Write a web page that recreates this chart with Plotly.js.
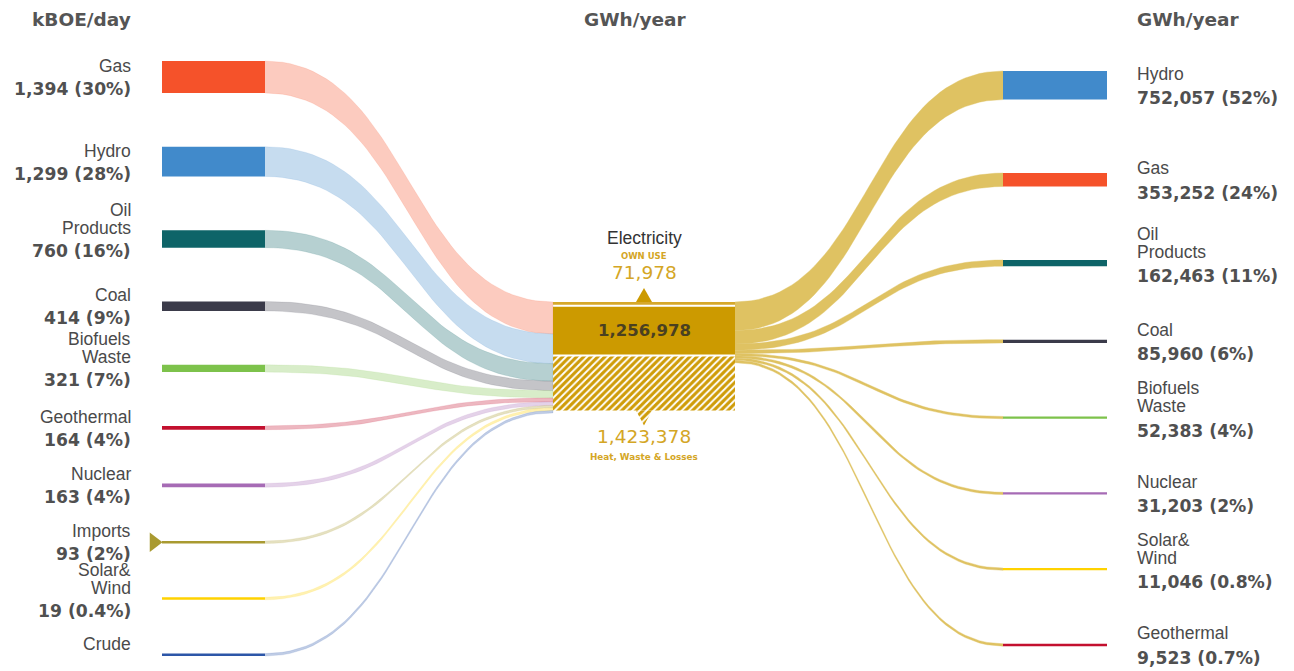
<!DOCTYPE html>
<html><head><meta charset="utf-8">
<script src="https://cdn.plot.ly/plotly-3.0.1.min.js"></script>
<style>html,body{margin:0;padding:0;background:#fff}#chart{width:1294px;height:671px}</style>
</head><body><div id="chart"></div>
<script>
// ---------- DATA ----------
const headers = ['kBOE/day', 'GWh/year', 'GWh/year'];

const leftNames  = ['Gas', 'Hydro', 'Oil\nProducts', 'Coal', 'Biofuels\nWaste', 'Geothermal', 'Nuclear', 'Imports', 'Solar&\nWind', 'Crude'];
const leftValues = [1394, 1299, 760, 414, 321, 164, 163, 93, 19, null];
const leftPct    = ['30%', '28%', '16%', '9%', '7%', '4%', '4%', '2%', '0.4%', null];
const leftColors = ['#f5522a', '#418acb', '#0e6468', '#3b3b4a', '#7dc24b', '#c3102f', '#a66bb5', '#a99a31', '#ffd200', '#2c56a8'];

const rightNames  = ['Hydro', 'Gas', 'Oil\nProducts', 'Coal', 'Biofuels\nWaste', 'Nuclear', 'Solar&\nWind', 'Geothermal'];
const rightValues = [752057, 353252, 162463, 85960, 52383, 31203, 11046, 9523];
const rightPct    = ['52%', '24%', '11%', '6%', '4%', '2%', '0.8%', '0.7%'];
const rightColors = ['#418acb', '#f5522a', '#0e6468', '#3b3b4a', '#7dc24b', '#a66bb5', '#ffd200', '#c3102f'];

const centerName = 'Electricity';
const ownUseLabel = 'OWN USE';
const lossesLabel = 'Heat, Waste & Losses';
const ownUse = 71978;
const electricity = 1256978;
const losses = 1423378;

// ---------- LAYOUT CONSTANTS ----------
const W = 1294, H = 671;
const L = {x0: 162, x1: 265, top: 61, gap: 53.8, k: 0.0229, minH: 2.5, labelX: 133};
const C = {x0: 553, x1: 735, top: 302, gap: 2, k: 3.8e-5};
const R = {x0: 1003, x1: 1107, top: 71, gap: 73.5, k: 3.8e-5, minH: 2.3, labelX: 1135};
const GOLD = '#cc9a00', GOLD_TXT = '#d4a625', FLOW_GOLD = '#dfc262';
const NAME_FONT = {family: 'Liberation Sans, Arial, sans-serif', size: 17.5, color: '#4a4a4a'};
const VAL_FONT = {family: 'DejaVu Sans, Verdana, sans-serif', size: 17.2, color: '#505050', weight: 'bold'};

function hexA(hex, a) {
  const n = parseInt(hex.slice(1), 16);
  return `rgba(${(n >> 16) & 255},${(n >> 8) & 255},${n & 255},${a})`;
}
function fmt(v) { return v.toLocaleString('en-US'); }

const traces = [];
const annotations = [];

function poly(xs, ys, color, extra) {
  traces.push(Object.assign({
    type: 'scatter', mode: 'lines', x: xs, y: ys, fill: 'toself',
    fillcolor: color, line: {width: 0, color: color}, hoverinfo: 'skip', showlegend: false
  }, extra || {}));
}
function rect(x0, x1, y0, y1, color, extra) {
  poly([x0, x1, x1, x0, x0], [y0, y0, y1, y1, y0], color, extra);
}
function bez(p0, p1, p2, p3, t) {
  const u = 1 - t;
  return u*u*u*p0 + 3*u*u*t*p1 + 3*u*t*t*p2 + t*t*t*p3;
}
function flow(x0, a0, b0, x1, a1, b1, color) {
  const xm = (x0 + x1) / 2, N = 48, xs = [], ys = [];
  for (let i = 0; i <= N; i++) { const t = i / N; xs.push(bez(x0, xm, xm, x1, t)); ys.push(bez(a0, a0, a1, a1, t)); }
  for (let i = N; i >= 0; i--) { const t = i / N; xs.push(bez(x0, xm, xm, x1, t)); ys.push(bez(b0, b0, b1, b1, t)); }
  poly(xs, ys, color, {line: {width: 0.4, color: color}});
}
function text(x, y, s, font, xanchor) {
  annotations.push({x: x, y: y, xref: 'x', yref: 'y', text: s, showarrow: false,
    xanchor: xanchor || 'center', yanchor: 'middle', font: font});
}

// ---------- LEFT NODES + FLOWS ----------
let y = L.top;
let cy = C.top;
leftNames.forEach((name, i) => {
  const h = Math.max((leftValues[i] || 0) * L.k, L.minH);
  const y0 = y, y1 = y + h, yc = (y0 + y1) / 2;
  flow(L.x1, y0, y1, C.x0, cy, cy + h, hexA(leftColors[i], 0.3));
  rect(L.x0, L.x1, y0, y1, leftColors[i]);
  const lines = name.split('\n');
  lines.forEach((ln, j) => text(L.labelX, yc - 11 - (lines.length - 1 - j) * 18, ln, NAME_FONT, 'right'));
  if (leftValues[i] != null) text(L.labelX, yc + 12, fmt(leftValues[i]) + ' (' + leftPct[i] + ')', VAL_FONT, 'right');
  if (i === 7) {
    traces.push({type: 'scatter', mode: 'markers', x: [L.x0 - 8], y: [yc],
      marker: {symbol: 'triangle-right', size: 17, color: leftColors[i]}, hoverinfo: 'skip', showlegend: false});
  }
  cy += h;
  y = y1 + L.gap;
});

// ---------- CENTER NODE ----------
const hOwn = ownUse * C.k, hEl = electricity * C.k, hLoss = losses * C.k;
const yOwn0 = C.top, yOwn1 = yOwn0 + hOwn;
const yEl0 = yOwn1 + C.gap, yEl1 = yEl0 + hEl;
const yLo0 = yEl1 + C.gap, yLo1 = yLo0 + hLoss;
const cx = (C.x0 + C.x1) / 2;

// ---------- RIGHT NODES + FLOWS ----------
let ry = R.top, rcy = C.top;
rightNames.forEach((name, i) => {
  const h = Math.max(rightValues[i] * R.k, R.minH);
  const y0 = ry, y1 = ry + h, yc = (y0 + y1) / 2;
  flow(C.x1, rcy, rcy + h, R.x0, y0, y1, FLOW_GOLD);
  rect(R.x0, R.x1, y0, y1, rightColors[i]);
  const lines = name.split('\n');
  lines.forEach((ln, j) => text(R.labelX, yc - 11.5 - (lines.length - 1 - j) * 18, ln, NAME_FONT, 'left'));
  text(R.labelX, yc + 13, fmt(rightValues[i]) + ' (' + rightPct[i] + ')', VAL_FONT, 'left');
  rcy += h;
  ry = y1 + R.gap;
});

// center blocks drawn on top of flows
rect(C.x0, C.x1, yOwn0, yOwn1, '#d6a82a');
rect(C.x0, C.x1, yEl0, yEl1, GOLD);
const hatch = {fillpattern: {shape: '/', bgcolor: '#ffffff', fgcolor: '#cf9c08', size: 5, solidity: 0.62}};
rect(C.x0, C.x1, yLo0, yLo1, '#ffffff', hatch);
// own use up-arrow, losses down-arrow
poly([cx - 8, cx + 8, cx, cx - 8], [yOwn0, yOwn0, yOwn0 - 14, yOwn0], GOLD);
poly([cx - 8, cx + 8, cx, cx - 8], [yLo1, yLo1, yLo1 + 15, yLo1], '#ffffff', hatch);

// center texts
text(cx, yOwn0 - 64, centerName, {family: 'Liberation Sans, Arial, sans-serif', size: 17.5, color: '#333'});
text(cx, yOwn0 - 46, ownUseLabel, {family: 'DejaVu Sans, Verdana, sans-serif', size: 8.5, color: GOLD_TXT, weight: 'bold'});
text(cx, yOwn0 - 30, fmt(ownUse), {family: 'DejaVu Sans, Verdana, sans-serif', size: 18.5, color: GOLD_TXT});
text(cx, (yEl0 + yEl1) / 2, fmt(electricity), {family: 'DejaVu Sans, Verdana, sans-serif', size: 16.5, color: '#4a4020', weight: 'bold'});
text(cx, yLo1 + 26, fmt(losses), {family: 'DejaVu Sans, Verdana, sans-serif', size: 18.5, color: GOLD_TXT});
text(cx, yLo1 + 46, lossesLabel, {family: 'DejaVu Sans, Verdana, sans-serif', size: 8.8, color: GOLD_TXT, weight: 'bold'});

// headers
const HEAD_FONT = {family: 'DejaVu Sans, Verdana, sans-serif', size: 18.5, color: '#555', weight: 'bold'};
text(L.labelX, 19, headers[0], HEAD_FONT, 'right');
text(635, 19, headers[1], HEAD_FONT, 'center');
text(R.labelX, 19, headers[2], HEAD_FONT, 'left');

const layout = {
  width: W, height: H,
  margin: {l: 0, r: 0, t: 0, b: 0},
  paper_bgcolor: '#fff', plot_bgcolor: '#fff',
  xaxis: {range: [0, W], visible: false, fixedrange: true},
  yaxis: {range: [H, 0], visible: false, fixedrange: true},
  showlegend: false,
  annotations: annotations
};
Plotly.newPlot('chart', traces, layout, {staticPlot: true, displayModeBar: false});
</script>
</body></html>
